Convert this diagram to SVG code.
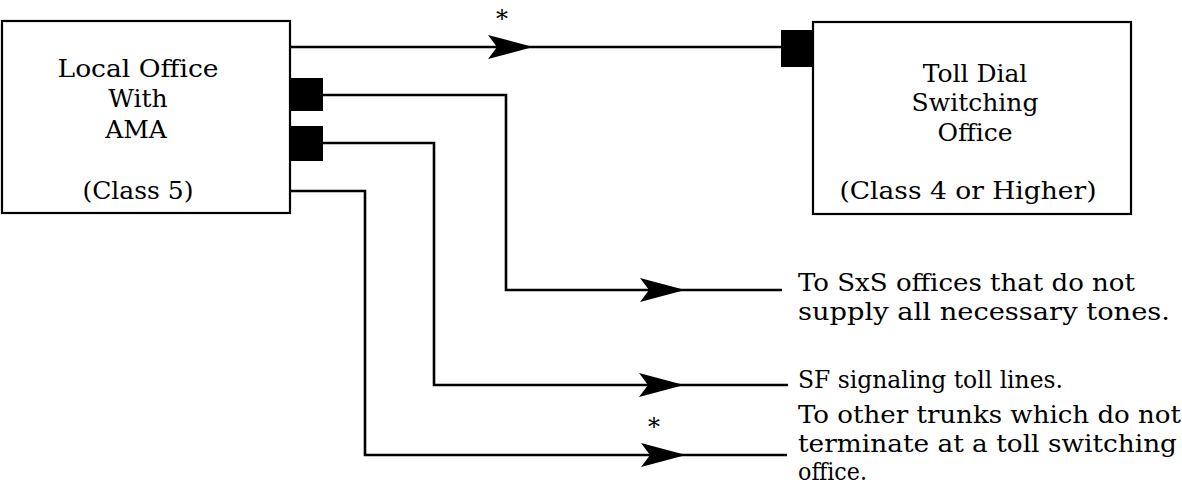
<svg xmlns="http://www.w3.org/2000/svg" width="1182" height="499" viewBox="0 0 1182 499">
<style>
.box{fill:#fff;stroke:#000;stroke-width:2.2}
.blk{fill:#000}
.ln{fill:none;stroke:#000;stroke-width:2.6}
.t{font-family:"DejaVu Serif","Liberation Serif",serif;font-size:25px;fill:#000;text-anchor:middle}
.lb{font-family:"DejaVu Serif","Liberation Serif",serif;font-size:24px;fill:#000}
.ast{font-family:"DejaVu Serif","Liberation Serif",serif;font-size:24px;fill:#000;text-anchor:middle}
</style>
<defs>
<path id="ah" d="M0,0 L-45,-12 L-36,0 L-45,12 Z" fill="#000"/>
</defs>
<rect width="1182" height="499" fill="#fff"/>
<g id="local-office">
<rect class="box" x="2" y="21" width="288" height="192"/>
<text class="t" x="138" y="77" textLength="161" lengthAdjust="spacingAndGlyphs">Local Office</text>
<text class="t" x="138" y="107">With</text>
<text class="t" x="136" y="138">AMA</text>
<text class="t" x="138" y="199">(Class 5)</text>
<rect class="blk" x="290" y="78" width="33" height="33"/>
<rect class="blk" x="290" y="126" width="33" height="35"/>
</g>
<g id="toll-office">
<rect class="box" x="813" y="22" width="318" height="192"/>
<rect class="blk" x="781" y="30" width="32" height="37"/>
<text class="t" x="975" y="82">Toll Dial</text>
<text class="t" x="975" y="111">Switching</text>
<text class="t" x="975" y="141">Office</text>
<text class="t" x="968" y="199" textLength="257" lengthAdjust="spacingAndGlyphs">(Class 4 or Higher)</text>
</g>
<g id="connectors">
<path class="ln" d="M290,47 H781"/>
<use href="#ah" x="533" y="47"/>
<path class="ln" d="M323,95 H506 V290 H782"/>
<use href="#ah" x="685" y="290"/>
<path class="ln" d="M323,143 H434 V385 H788"/>
<use href="#ah" x="684" y="385"/>
<path class="ln" d="M290,191 H365 V455 H787"/>
<use href="#ah" x="686" y="455"/>
</g>
<g id="labels">
<text class="ast" x="502" y="27">*</text>
<text class="ast" x="654" y="435">*</text>
<text class="lb" x="798" y="291" textLength="337" lengthAdjust="spacingAndGlyphs">To SxS offices that do not</text>
<text class="lb" x="798" y="320" textLength="372" lengthAdjust="spacingAndGlyphs">supply all necessary tones.</text>
<text class="lb" x="798" y="388" textLength="265" lengthAdjust="spacingAndGlyphs">SF signaling toll lines.</text>
<text class="lb" x="798" y="423" textLength="383" lengthAdjust="spacingAndGlyphs">To other trunks which do not</text>
<text class="lb" x="798" y="452" textLength="379" lengthAdjust="spacingAndGlyphs">terminate at a toll switching</text>
<text class="lb" x="798" y="480" textLength="69" lengthAdjust="spacingAndGlyphs">office.</text>
</g>
</svg>
